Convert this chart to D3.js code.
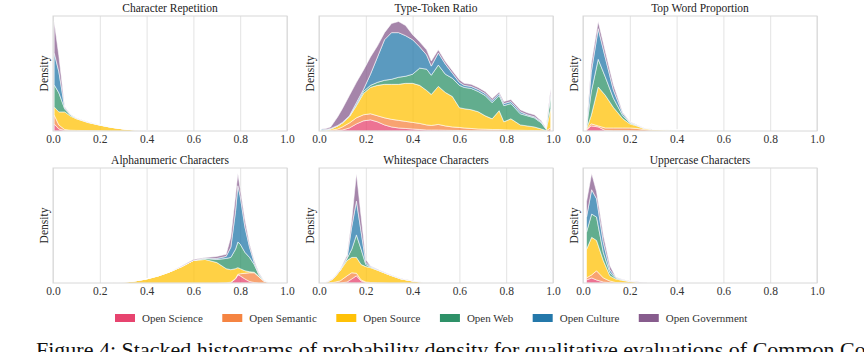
<!DOCTYPE html>
<html>
<head>
<meta charset="utf-8">
<script src="https://cdn.jsdelivr.net/npm/d3@7"></script>
<style>
  body { margin: 0; background: #fff; }
  svg { display: block; }
  text { font-family: 'Liberation Serif', 'Times New Roman', serif; }
</style>
</head>
<body>
<svg id="chart"></svg>
<script>
// Series (stack order, bottom to top) and colours
const sources = ["Open Science", "Open Semantic", "Open Source", "Open Web", "Open Culture", "Open Government"];
const colors = ["#E7446F", "#F58442", "#FFC107", "#2E9168", "#2478AA", "#875C8D"];
const panelTitles = ["Character Repetition", "Type-Token Ratio", "Top Word Proportion",
                     "Alphanumeric Characters", "Whitespace Characters", "Uppercase Characters"];
const xTickValues = [0, 0.2, 0.4, 0.6, 0.8, 1.0];

// Character Repetition: bin centres, then one row per series
const charRepX = [0.005, 0.025, 0.05, 0.075, 0.1, 0.15, 0.2, 0.25, 0.3, 0.35, 0.4, 0.5];
const charRepDensity = [
  [7, 2, 0.5, 0.3, 0.2, 0.1, 0.1, 0, 0, 0, 0, 0],
  [9, 4, 1, 0.5, 0.4, 0.3, 0.2, 0.1, 0, 0, 0, 0],
  [8, 13, 17.5, 14, 11.5, 8, 5.5, 3.5, 2, 1, 0.5, 0.2],
  [22, 19, 3, 1, 0.5, 0.3, 0.2, 0.1, 0.1, 0, 0, 0],
  [32, 21, 1, 0.3, 0.2, 0.1, 0.1, 0, 0, 0, 0, 0],
  [31, 16, 0.8, 0.3, 0.2, 0.1, 0.1, 0.1, 0, 0, 0, 0]
];

// Type-Token Ratio
const ttrX = [0.01, 0.03, 0.05, 0.08, 0.1, 0.13, 0.16, 0.19, 0.22, 0.25, 0.28, 0.31, 0.34, 0.37, 0.4, 0.43, 0.46, 0.48,
              0.51, 0.54, 0.57, 0.6, 0.62, 0.65, 0.68, 0.71, 0.74, 0.77, 0.79, 0.82, 0.86, 0.89, 0.92, 0.95, 0.97, 0.99];
const ttrDensity = [
  [0, 0, 0, 0.5, 1, 3, 7, 10, 11, 9, 6, 4, 3, 2.5, 2, 1.5, 1, 1, 1, 0.8, 0.6, 0.5, 0.4, 0.3, 0.3, 0.2, 0.2, 0.2, 0.1, 0.1, 0.1, 0, 0, 0, 0, 0],
  [0, 0.3, 0.7, 1.5, 3, 5, 6, 6, 6, 6, 7, 7.5, 7.5, 7, 6.5, 6, 5, 4.5, 5.5, 4.2, 3.4, 3, 2.6, 2.2, 1.7, 1.6, 1.3, 1.3, 1.1, 0.9, 0.7, 0.6, 0.5, 0.3, 0.2, 3],
  [0.5, 0.7, 1.3, 3, 4, 6, 12, 21, 26, 30, 33, 34.5, 35.5, 37.5, 38.5, 37.5, 34, 30.5, 37.5, 33, 30, 19.5, 19, 18.5, 17, 13.2, 10.5, 18.5, 7.8, 11, 5.2, 4.4, 3.5, 1.7, 0.3, 19],
  [0, 0, 0, 0, 0, 0.5, 1, 2, 2, 3, 4, 5, 7, 7, 9, 17, 21, 19, 21, 18, 18, 22, 21, 21, 20, 20, 16, 15, 16, 15, 11, 10, 9, 6, 1.5, 13],
  [1.5, 0.5, 0.5, 0.5, 0.5, 0.5, 2, 2, 11, 25, 40, 46, 44, 40, 34, 21, 14, 9, 12, 10, 5, 3, 2, 2, 2, 2, 2, 2, 2, 2, 2, 1, 1, 1, 0.5, 2],
  [0, 1, 1.5, 8.5, 13.5, 20, 20, 19, 17, 11, 7, 9, 11, 10, 5, 5, 5, 5, 3, 2.5, 2.5, 2.5, 2, 2, 2, 2, 2, 1.5, 2, 2, 2, 2, 2, 1, 0.5, 5]
];

// Top Word Proportion
const topWordX = [0.015, 0.035, 0.065, 0.095, 0.13, 0.17, 0.2, 0.23, 0.26, 0.3, 0.35, 0.45, 0.55];
const topWordDensity = [
  [1, 5, 4, 0.5, 0.3, 0.3, 0.2, 0.1, 0, 0, 0, 0, 0],
  [0.5, 2, 1, 2.5, 2.7, 2.7, 2.8, 2.4, 1.5, 0.5, 0.3, 0.2, 0],
  [0.5, 8, 38, 32, 20, 9, 4, 2.5, 1, 1, 0.7, 0.3, 0.2],
  [1, 23, 27, 18, 9, 3, 1, 0.5, 0.2, 0.1, 0.1, 0.1, 0],
  [1, 19, 30, 19, 8, 2, 0.5, 0.3, 0.1, 0.1, 0.1, 0, 0],
  [1, 8, 7, 6, 5, 1, 0.5, 0.2, 0.2, 0.1, 0, 0, 0]
];

// Alphanumeric Characters
const alnumX = [0.26, 0.3, 0.35, 0.4, 0.45, 0.5, 0.55, 0.6, 0.65, 0.7, 0.74, 0.76, 0.78, 0.79, 0.8, 0.82, 0.84, 0.86, 0.88, 0.9, 0.92, 0.95];
const alnumDensity = [
  [0, 0, 0, 0, 0, 0, 0, 0, 0, 0, 0, 0.5, 4, 8, 7, 4, 1.5, 0.5, 0, 0, 0, 0],
  [0, 0, 0, 0, 0, 0, 0, 0, 0, 0, 0.2, 0.3, 0.5, 0.5, 2, 5.5, 8.5, 9.5, 6, 2, 0.5, 0],
  [0.2, 0.8, 2, 4, 7, 11, 16, 22, 23, 20, 13.8, 12.2, 9.5, 6.5, 5, 2.5, 1, 0.5, 0.5, 0.2, 0.1, 0],
  [0, 0, 0, 0, 0, 0, 0, 0, 1, 3, 10, 12, 19, 25, 24, 18, 14, 7.5, 1.5, 0.3, 0.1, 0],
  [0, 0, 0, 0, 0, 0, 0, 0, 0.5, 1, 2, 10, 37, 55, 47, 25, 10, 2, 1, 0.2, 0, 0],
  [0, 0, 0, 0, 0, 0, 0.5, 1, 0.5, 2, 2, 10, 15, 12, 7, 7, 3, 2, 1, 0.3, 0.1, 0]
];

// Whitespace Characters
const spaceX = [0.03, 0.06, 0.09, 0.12, 0.14, 0.16, 0.18, 0.2, 0.22, 0.25, 0.3, 0.35, 0.4, 0.45, 0.5];
const spaceDensity = [
  [0, 0, 0, 1, 4, 7, 2, 0.5, 0, 0, 0, 0, 0, 0, 0],
  [0, 0.5, 2, 6, 6, 2.5, 1, 0.5, 0.5, 0.2, 0, 0, 0, 0, 0],
  [0.5, 3.5, 10, 15, 15, 15.5, 15, 15, 14.5, 12.3, 8, 4, 2, 0.5, 0],
  [0, 0, 0, 2, 8, 22, 15, 2, 0.5, 0.2, 0, 0, 0, 0, 0],
  [0, 0, 0.5, 1, 22, 33, 17, 2, 0.5, 0.3, 0.3, 0.2, 0, 0, 0],
  [0.2, 0.5, 0.5, 2, 7, 27, 15, 3, 0.5, 0.5, 0.2, 0.1, 0.1, 0.1, 0.1]
];

// Uppercase Characters
const upperX = [0.015, 0.037, 0.058, 0.087, 0.115, 0.14, 0.17, 0.2, 0.23, 0.27];
const upperDensity = [
  [3, 5, 3, 1, 0.3, 0, 0, 0, 0, 0],
  [2, 3, 9, 4, 1.7, 0.5, 0.2, 0, 0, 0],
  [28, 37, 30, 17, 5, 3.5, 2.3, 1.5, 1, 0.3],
  [17, 23, 23, 8, 3, 1, 0.5, 0.2, 0, 0],
  [15, 24, 18, 10, 3, 0.5, 0.2, 0.1, 0.1, 0],
  [15, 16, 7, 7, 4, 0.5, 0.3, 0.2, 0.1, 0.1]
];

const captionText = "Figure 4: Stacked histograms of probability density for qualitative evaluations of Common Corpus.";

// Layout
const width = 864;
const height = 352;
const colLeft = [53, 319, 583];
const rowTop = [16, 168];
const panelW = 234;
const panelH = 115;
const serif = "'Liberation Serif', 'Times New Roman', serif";

const panels = [
  { x: charRepX, density: charRepDensity },
  { x: ttrX, density: ttrDensity },
  { x: topWordX, density: topWordDensity },
  { x: alnumX, density: alnumDensity },
  { x: spaceX, density: spaceDensity },
  { x: upperX, density: upperDensity }
];

const svg = d3.select("#chart")
    .attr("width", width)
    .attr("height", height)
    .attr("viewBox", [0, 0, width, height])
    .attr("font-family", serif);

panels.forEach((p, i) => {
    const left = colLeft[i % 3];
    const top = rowTop[Math.floor(i / 3)];

    const x = d3.scaleLinear().domain([0, 1]).range([left, left + panelW]);

    const rows = p.x.map((xv, j) => {
        const r = { x: xv };
        sources.forEach((s, k) => r[s] = p.density[k][j]);
        return r;
    });
    const stacked = d3.stack().keys(sources)(rows);

    const y = d3.scaleLinear()
        .domain([0, d3.max(stacked[stacked.length - 1], d => d[1]) * 1.05])
        .range([top + panelH, top]);

    const g = svg.append("g");

    // vertical grid lines
    g.append("g")
        .attr("transform", `translate(0,${top + panelH})`)
        .call(d3.axisBottom(x).tickValues(xTickValues).tickSize(-panelH).tickFormat(""))
        .call(a => a.select(".domain").remove())
        .selectAll("line")
          .attr("stroke", "#e3e3e3")
          .attr("stroke-width", 1);

    // stacked layers
    const area = d3.area()
        .x(d => x(d.data.x))
        .y0(d => y(d[0]))
        .y1(d => y(d[1]));

    g.append("g")
      .selectAll("path")
      .data(stacked)
      .join("path")
        .attr("fill", (d, k) => colors[k])
        .attr("fill-opacity", 0.75)
        .attr("stroke", "#ffffff")
        .attr("stroke-opacity", 0.7)
        .attr("stroke-width", 0.8)
        .attr("stroke-linejoin", "round")
        .attr("d", area);

    // frame
    g.append("rect")
        .attr("x", left)
        .attr("y", top)
        .attr("width", panelW)
        .attr("height", panelH)
        .attr("fill", "none")
        .attr("stroke", "#d8d8d8")
        .attr("stroke-width", 1);

    // tick labels
    g.append("g")
        .attr("transform", `translate(0,${top + panelH})`)
        .call(d3.axisBottom(x).tickValues(xTickValues).tickSize(0).tickPadding(4).tickFormat(d3.format(".1f")))
        .attr("font-family", serif)
        .call(a => a.select(".domain").remove())
        .selectAll("text")
          .attr("font-family", serif)
          .attr("font-size", 11.5)
          .attr("fill", "#333");

    // title
    g.append("text")
        .attr("x", left + panelW / 2)
        .attr("y", top - 4)
        .attr("text-anchor", "middle")
        .attr("font-family", serif)
        .attr("font-size", 11.5)
        .attr("fill", "#222")
        .text(panelTitles[i]);

    // y label
    g.append("text")
        .attr("transform", `translate(${left - 5},${top + panelH / 2}) rotate(-90)`)
        .attr("text-anchor", "middle")
        .attr("font-family", serif)
        .attr("font-size", 11.5)
        .attr("fill", "#222")
        .text("Density");
});

// Legend
const legend = svg.append("g").attr("transform", "translate(115,314)");
let lx = 0;
sources.forEach((s, k) => {
    const item = legend.append("g").attr("transform", `translate(${lx},0)`);
    item.append("rect")
        .attr("width", 20)
        .attr("height", 8)
        .attr("fill", colors[k]);
    const t = item.append("text")
        .attr("x", 27)
        .attr("y", 7.5)
        .attr("font-family", serif)
        .attr("font-size", 11)
        .attr("fill", "#333")
        .text(s);
    lx += 27 + t.node().getComputedTextLength() + 19.5;
});

// Caption (the reference shows it cut by the page edge)
svg.append("text")
    .attr("x", 36)
    .attr("y", 357)
    .attr("font-family", serif)
    .attr("font-size", 22)
    .attr("fill", "#111")
    .text(captionText);
</script>
</body>
</html>
